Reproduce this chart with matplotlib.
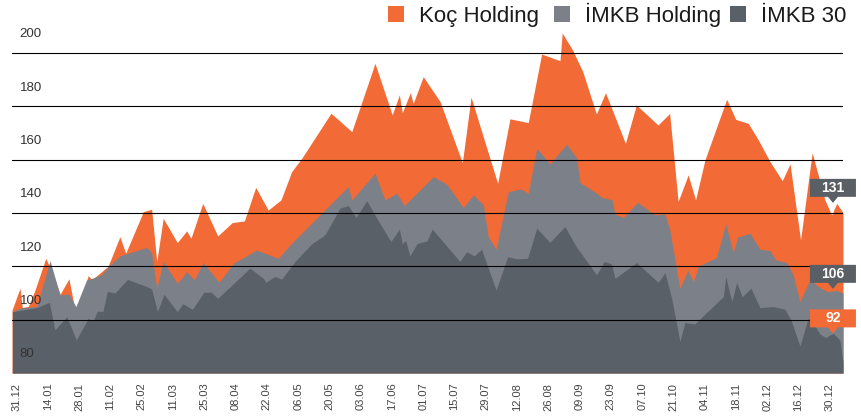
"""
    Koç Holding / İMKB endeks grafiği
"""

import matplotlib
matplotlib.use('Agg')
import matplotlib.pyplot as plt
from matplotlib.patches import Rectangle, Polygon
import numpy as np

plt.rcParams['font.family'] = ['Liberation Sans', 'DejaVu Sans']

# gün: 31.12'den itibaren geçen gün sayısı
koc_days = [-2.1, 1.5, 2.5, 5.2, 8.2, 13.0, 15.8, 19.4, 23.4, 26.5, 32.0, 33.7, 40.9, 46.2, 48.8,
            56.7, 60.4, 62.7, 65.6, 71.9, 76.1, 78.0, 83.3, 90.0, 96.5, 101.9, 107.0, 112.6, 118.3,
            123.1, 127.6, 140.7, 150.0, 160.4, 168.1, 171.3, 172.6, 176.2, 177.5, 182.0, 189.5,
            199.5, 203.4, 215.3, 220.8, 229.0, 235.0, 243.2, 244.2, 248.9, 253.4, 259.5, 263.6,
            272.5, 277.4, 287.1, 292.3, 296.1, 300.6, 303.9, 308.1, 317.8, 321.9, 327.5, 332.0,
            337.2, 342.7, 346.2, 350.9, 356.1, 361.8, 364.8, 367.1, 369.9]
koc_vals = [103.6, 111.8, 104.5, 105.0, 111.1, 123.0, 118.0, 109.5, 115.3, 101.8, 116.5, 115.0, 120.0,
            131.1, 124.9, 140.5, 141.4, 121.8, 138.0, 128.9, 133.3, 130.5, 143.6, 131.4, 136.4, 137.0,
            149.6, 141.1, 144.9, 155.5, 160.5, 177.4, 170.5, 196.1, 176.8, 184.3, 177.6, 185.1, 181.1,
            191.1, 181.8, 158.9, 183.4, 151.1, 175.3, 173.9, 199.6, 197.1, 207.5, 201.0, 193.0, 177.1,
            185.1, 166.1, 180.5, 173.0, 177.3, 144.3, 154.3, 144.9, 159.9, 182.6, 175.1, 173.6, 167.4,
            159.3, 152.1, 158.4, 129.9, 162.6, 144.9, 139.3, 143.6, 140.1]

hold_days = [-1.9, 1.5, 9.0, 14.9, 19.4, 23.4, 26.5, 31.3, 33.7, 38.0, 41.0, 46.2, 58.2, 60.4, 62.7,
             65.6, 71.9, 76.1, 79.5, 83.5, 90.6, 97.0, 107.4, 117.1, 122.3, 148.4, 150.0, 160.4, 164.9,
             170.1, 173.5, 186.5, 192.5, 197.0, 199.9, 204.4, 208.9, 211.1, 214.6, 220.1, 225.8, 229.0,
             232.8, 238.7, 246.2, 250.7, 252.2, 258.9, 262.1, 266.6, 267.8, 271.5, 278.0, 285.7, 290.2,
             292.4, 296.9, 300.4, 302.9, 305.1, 310.3, 313.3, 317.4, 320.8, 322.6, 328.3, 332.7, 337.2,
             339.8, 344.7, 347.6, 350.6, 355.1, 359.6, 363.2, 366.8, 369.9]
hold_vals = [103.0, 104.3, 105.0, 122.1, 109.3, 109.6, 104.9, 114.9, 115.5, 116.8, 119.9, 123.9, 127.1,
             125.1, 111.8, 121.8, 113.6, 118.0, 114.9, 121.4, 114.0, 121.1, 126.1, 123.0, 128.0, 149.9,
             144.9, 154.9, 144.9, 147.4, 142.8, 153.6, 150.8, 145.5, 142.0, 146.8, 143.0, 131.1, 126.4,
             148.0, 149.0, 147.4, 164.3, 158.4, 165.8, 160.5, 151.4, 147.8, 145.8, 144.9, 139.6, 138.3,
             144.0, 139.3, 139.6, 133.6, 111.8, 118.6, 114.3, 119.9, 122.1, 123.4, 135.9, 125.1, 130.9,
             132.4, 126.4, 125.9, 122.4, 121.4, 116.8, 106.8, 115.0, 112.0, 110.5, 111.0, 110.0]

xu30_days = [-1.9, 9.0, 14.6, 17.1, 22.4, 26.7, 32.0, 34.2, 36.1, 38.6, 40.6, 44.0, 49.6, 58.2, 60.4,
             63.0, 65.9, 71.9, 74.3, 78.7, 83.8, 87.0, 90.0, 104.4, 110.4, 111.5, 115.6, 118.6, 122.3,
             124.6, 132.0, 138.0, 144.7, 148.4, 151.9, 156.7, 161.2, 167.5, 171.3, 172.6, 174.1, 176.0,
             179.3, 183.7, 186.0, 198.4, 201.4, 204.8, 208.1, 214.6, 219.8, 223.8, 228.7, 232.8, 238.7,
             245.4, 250.7, 259.6, 263.0, 266.3, 267.8, 277.5, 287.2, 290.2, 293.2, 296.9, 299.1, 303.6,
             308.1, 316.3, 317.4, 320.1, 322.3, 324.8, 328.7, 332.7, 338.7, 343.9, 346.6, 350.6, 354.3,
             356.4, 359.6, 362.1, 365.5, 368.5, 369.9]
xu30_vals = [103.0, 104.5, 106.5, 96.1, 101.1, 92.4, 100.5, 99.5, 103.2, 103.1, 110.6, 110.0, 115.1,
             112.4, 111.5, 103.0, 109.5, 103.0, 106.0, 103.9, 110.3, 110.3, 108.0, 119.3, 115.5, 114.0,
             116.2, 115.2, 119.3, 121.8, 128.4, 131.8, 141.8, 142.8, 138.3, 144.6, 138.0, 129.3, 134.0,
             128.5, 129.7, 123.9, 128.6, 129.5, 134.0, 121.8, 125.5, 123.9, 126.4, 111.1, 123.6, 122.8,
             123.0, 134.3, 129.0, 134.9, 127.1, 116.8, 121.8, 120.9, 115.5, 121.4, 114.0, 117.6, 108.0,
             91.8, 98.9, 98.4, 102.1, 108.6, 116.1, 106.8, 113.9, 108.6, 111.8, 104.5, 104.9, 103.9,
             99.9, 90.1, 100.5, 99.0, 94.6, 93.3, 94.9, 92.4, 84.0]

tick_labels = ['31.12', '14.01', '28.01', '11.02', '25.02', '11.03', '25.03', '08.04', '22.04',
               '06.05', '20.05', '03.06', '17.06', '01.07', '15.07', '29.07', '12.08', '26.08',
               '09.09', '23.09', '07.10', '21.10', '04.11', '18.11', '02.12', '16.12', '30.12']
y_levels = [80, 100, 120, 140, 160, 180, 200]
series_names = ['Koç Holding', 'İMKB Holding', 'İMKB 30']
end_labels = ['131', '106', '92']

ORANGE = '#F26A35'
GRAY = '#7C8189'
DARK = '#5A6068'
colors = [ORANGE, GRAY, DARK]
label_colors = ['#5A5F66', '#5A5F66', ORANGE]

W, H = 862, 417
fig = plt.figure(figsize=(W / 100, H / 100), dpi=100)
ax = fig.add_axes([12 / W, 44 / H, 831 / W, 346.7 / H])

series = [(koc_days, koc_vals), (hold_days, hold_vals), (xu30_days, xu30_vals)]
for i, (d, v) in enumerate(series):
    ax.fill_between(d, v, 80, color=colors[i], lw=0, zorder=1 + i)

for v in y_levels[1:]:
    ax.axhline(v, color='black', lw=0.8, zorder=5)
ax.axhline(80, color='#6b4a3f', lw=1.0, zorder=5)

for v in y_levels:
    ax.annotate(str(v), xy=(0.009, v), xycoords=('axes fraction', 'data'),
                xytext=(0, 13.5), textcoords='offset points', ha='left', va='center',
                fontsize=9.5, color='#333333', zorder=6)

ax.set_xlim(-2.1, 369.9)
ax.set_ylim(80, 210)
ax.set_yticks([])
ax.set_xticks(np.arange(len(tick_labels)) * 14, tick_labels, rotation=90,
              fontsize=8, color='#444444')
ax.tick_params(axis='x', length=0, pad=7)
for s in ax.spines.values():
    s.set_visible(False)

# legend, sağ üst
def fpos(x, y):
    return x / W, 1 - y / H

leg_x = [388, 554, 730]
for i, name in enumerate(series_names):
    x0, y0 = fpos(leg_x[i], 21.5)
    fig.add_artist(Rectangle((x0, y0), 16 / W, 16 / H, color=colors[i],
                             transform=fig.transFigure, lw=0))
    tx, ty = fpos(leg_x[i] + 31, 21.7)
    fig.text(tx, ty, name, fontsize=16, va='baseline', ha='left', color='#1a1a1a')

# son değer etiketleri
tip_day = 365.4
tip_lift = [9, 2, 0]
inv = fig.transFigure.inverted()
for i, (d, v) in enumerate(series):
    val = np.interp(tip_day, d, v)
    tx, ty = ax.transData.transform((tip_day, val))
    ty += tip_lift[i]
    pts = [(tx - 23, ty + 6), (tx - 5, ty + 6), (tx, ty), (tx + 5, ty + 6), (tx + 23, ty + 6),
           (tx + 23, ty + 24), (tx - 23, ty + 24)]
    pts = inv.transform(pts)
    fig.add_artist(Polygon(pts, closed=True, color=label_colors[i], lw=0,
                           transform=fig.transFigure, zorder=10))
    cx, cy = inv.transform((tx, ty + 15))
    fig.text(cx, cy, end_labels[i], color='white', fontsize=10, fontweight='bold',
             ha='center', va='center', zorder=11)

fig.savefig('out.png', dpi=100)
